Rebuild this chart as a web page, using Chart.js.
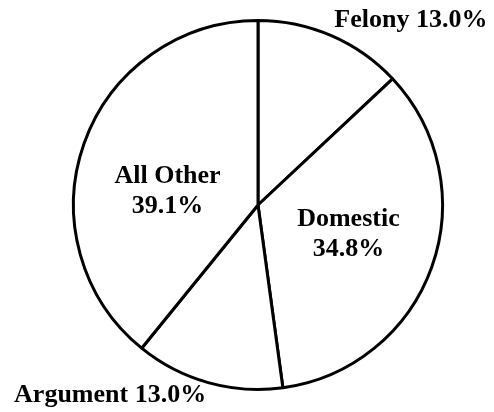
<!DOCTYPE html>
<html>
<head>
<meta charset="utf-8">
<script src="https://cdn.jsdelivr.net/npm/chart.js@4"></script>
<style>
  body { margin: 0; background: #fff; }
  canvas { display: block; }
</style>
</head>
<body>
<canvas id="pie" width="494" height="412"></canvas>
<script>
let categories = ["Felony", "Domestic", "Argument", "All Other"];
let percents = [13.0, 34.8, 13.0, 39.1];
// where each label goes: outside the pie or inside the slice
let labelPlace = ["outside", "inside", "outside", "inside"];
// small vertical nudge of the inside labels (px)
let labelNudge = [0, -3, 0, 18];

let fontSize = 26;
let labelFont = "bold " + fontSize + "px 'Liberation Serif', 'Times New Roman', serif";

// draws the data labels from the arc geometry
let pieLabels = {
  id: "pieLabels",
  afterDatasetsDraw(chart) {
    let ctx = chart.ctx;
    let meta = chart.getDatasetMeta(0);
    ctx.save();
    ctx.font = labelFont;
    ctx.fillStyle = "#000";
    meta.data.forEach((arc, i) => {
      let p = arc.getProps(["x", "y", "startAngle", "endAngle", "outerRadius"], true);
      let mid = (p.startAngle + p.endAngle) / 2;
      let text = percents[i].toFixed(1) + "%";
      if (labelPlace[i] == "inside") {
        let r = p.outerRadius * 0.52;
        let cx = p.x + Math.cos(mid) * r;
        let cy = p.y + Math.sin(mid) * r + labelNudge[i];
        ctx.textAlign = "center";
        ctx.textBaseline = "middle";
        ctx.fillText(categories[i], cx, cy - fontSize * 0.58);
        ctx.fillText(text, cx, cy + fontSize * 0.58);
      } else {
        let r = p.outerRadius * 1.04;
        let ax = p.x + Math.cos(mid) * r;
        let ay = p.y + Math.sin(mid) * r;
        ctx.textAlign = Math.cos(mid) >= 0 ? "left" : "right";
        ctx.textBaseline = "alphabetic";
        let y = Math.sin(mid) < 0 ? ay - 2 : ay + fontSize * 0.46;
        ctx.fillText(categories[i] + " " + text, ax, y);
      }
    });
    ctx.restore();
  }
};

let pieChart = new Chart(document.getElementById("pie"), {
  type: "pie",
  data: {
    labels: categories,
    datasets: [
      {
        data: percents,
        backgroundColor: "#ffffff",
        borderColor: "#000000",
        borderWidth: 3
      }
    ]
  },
  options: {
    responsive: false,
    animation: false,
    layout: { padding: { left: 72, right: 50, top: 19, bottom: 21 } },
    plugins: {
      legend: { display: false },
      tooltip: { enabled: false }
    }
  },
  plugins: [pieLabels]
});
</script>
</body>
</html>
